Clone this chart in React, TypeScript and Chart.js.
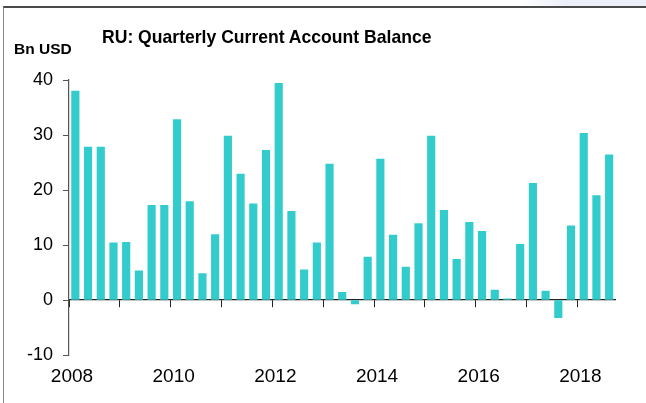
import React, { useEffect, useRef } from 'react';
import { Chart, registerables } from 'chart.js';

Chart.register(...registerables);

// Quarter labels (2008Q1 .. 2018Q3)
const quarters: string[] = [
  '2008Q1', '2008Q2', '2008Q3', '2008Q4',
  '2009Q1', '2009Q2', '2009Q3', '2009Q4',
  '2010Q1', '2010Q2', '2010Q3', '2010Q4',
  '2011Q1', '2011Q2', '2011Q3', '2011Q4',
  '2012Q1', '2012Q2', '2012Q3', '2012Q4',
  '2013Q1', '2013Q2', '2013Q3', '2013Q4',
  '2014Q1', '2014Q2', '2014Q3', '2014Q4',
  '2015Q1', '2015Q2', '2015Q3', '2015Q4',
  '2016Q1', '2016Q2', '2016Q3', '2016Q4',
  '2017Q1', '2017Q2', '2017Q3', '2017Q4',
  '2018Q1', '2018Q2', '2018Q3',
];

// Current account balance, Bn USD
const balances: number[] = [
  38.0, 27.8, 27.8, 10.4,
  10.5, 5.3, 17.2, 17.2,
  32.8, 17.9, 4.8, 11.9,
  29.8, 22.9, 17.5, 27.2,
  39.4, 16.1, 5.5, 10.4,
  24.7, 1.4, -0.7, 7.8,
  25.6, 11.8, 6.0, 13.9,
  29.8, 16.3, 7.4, 14.1,
  12.5, 1.8, 0.2, 10.1,
  21.2, 1.6, -3.2, 13.5,
  30.3, 19.0, 26.4,
];

const yearTickLabels: number[] = [2008, 2010, 2012, 2014, 2016, 2018];
const yTickValues: number[] = [-10, 0, 10, 20, 30, 40];

const FONT = '"Liberation Sans", Arial, Helvetica, sans-serif';

function quarterToX(q: string): number {
  const year = parseInt(q.slice(0, 4), 10);
  const qn = parseInt(q.slice(5), 10);
  return year + (qn - 1) / 4 + 0.125;
}

export default function App() {
  const canvasRef = useRef<HTMLCanvasElement>(null);

  useEffect(() => {
    document.body.style.margin = '0';
    const canvas = canvasRef.current;
    if (!canvas) return;
    const xMin = yearTickLabels[0];
    const xMax = quarterToX(quarters[quarters.length - 1]) + 0.125;

    const chart = new Chart(canvas, {
      type: 'bar',
      data: {
        datasets: [
          {
            data: quarters.map((q, i) => ({ x: quarterToX(q), y: balances[i] })),
            backgroundColor: '#33CCCC',
            borderWidth: 0,
            barThickness: 7.5,
            xAxisID: 'x',
            yAxisID: 'y',
          },
        ],
      },
      options: {
        animation: false,
        responsive: false,
        maintainAspectRatio: false,
        layout: { padding: { top: 80, right: 30.5, bottom: 0, left: 0 } },
        plugins: {
          legend: { display: false },
          tooltip: { enabled: false },
          title: { display: false },
        },
        scales: {
          x: {
            type: 'linear',
            position: { y: 0 } as any,
            offset: false,
            min: xMin,
            max: xMax,
            ticks: { display: false, stepSize: 1, includeBounds: false },
            grid: { offset: false, drawOnChartArea: false, drawTicks: true, tickLength: 7, color: '#222', lineWidth: 1 },
            border: { display: true, color: '#222', width: 1.2 },
          },
          x2: {
            type: 'linear',
            position: 'bottom',
            offset: false,
            min: xMin,
            max: xMax,
            afterBuildTicks: (s: any) => {
              s.ticks = yearTickLabels.map((v) => ({ value: v }));
            },
            ticks: {
              padding: 10,
              labelOffset: 3,
              color: '#000',
              maxRotation: 0,
              autoSkip: false,
              font: { family: FONT, size: 19 },
              callback: (v: any) => String(v),
            },
            grid: { offset: false, display: false, drawTicks: false },
            border: { display: false },
            afterFit: (s: any) => {
              s.height = 48;
            },
          },
          y: {
            type: 'linear',
            position: 'left',
            min: yTickValues[0],
            max: yTickValues[yTickValues.length - 1],
            afterBuildTicks: (s: any) => {
              s.ticks = yTickValues.map((v) => ({ value: v }));
            },
            ticks: {
              padding: 10,
              color: '#000',
              font: { family: FONT, size: 18 },
              callback: (v: any) => String(v),
            },
            grid: { drawOnChartArea: false, drawTicks: true, tickLength: 6, color: '#555', lineWidth: 1 },
            border: { display: true, color: '#555', width: 1.2 },
            afterFit: (s: any) => {
              s.width = 69;
            },
          },
        },
      },
    });
    return () => chart.destroy();
  }, []);

  return (
    <div style={{ position: 'relative', width: 646, height: 403, background: '#fff', overflow: 'hidden' }}>
      <canvas ref={canvasRef} width={646} height={403} style={{ position: 'absolute', left: 0, top: 0 }} />
      <div
        style={{
          position: 'absolute', left: 520, top: 0, width: 126, height: 7,
          background: 'linear-gradient(to right, rgba(236,239,248,0), #ECEFF8 35%)',
        }}
      />
      <div
        style={{
          position: 'absolute', left: 3, top: 6, right: 0, bottom: 0,
          borderTop: '2px solid #4a4a4a', borderLeft: '1px solid #8a8a8a',
          pointerEvents: 'none',
        }}
      />
      <div
        style={{
          position: 'absolute', left: 102, top: 27, fontFamily: FONT, fontWeight: 'bold',
          fontSize: 18.5, lineHeight: '19px', color: '#000', whiteSpace: 'nowrap',
          transform: 'scaleX(0.95)', transformOrigin: 'left top',
        }}
      >
        RU: Quarterly Current Account Balance
      </div>
      <div
        style={{
          position: 'absolute', left: 14, top: 41, fontFamily: FONT, fontWeight: 'bold',
          fontSize: 15.5, lineHeight: '16px', color: '#000', whiteSpace: 'nowrap',
        }}
      >
        Bn USD
      </div>
    </div>
  );
}
